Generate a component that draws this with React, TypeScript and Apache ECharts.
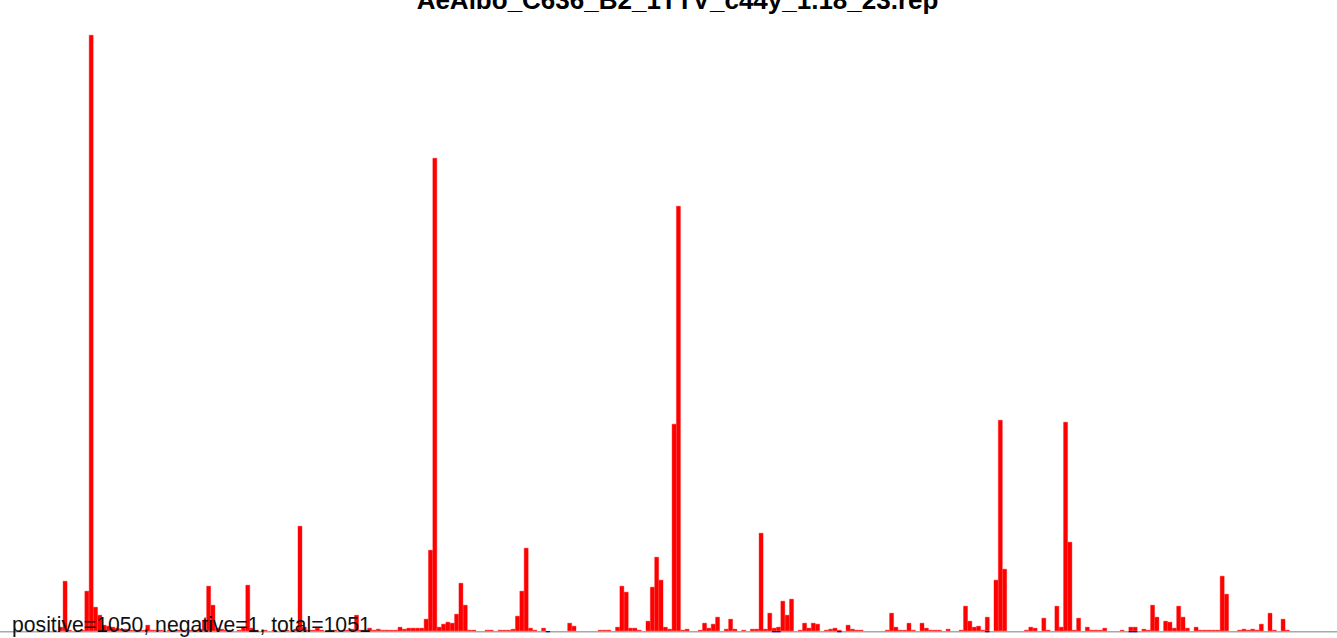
import React, { useEffect, useRef } from "react";
import * as echarts from "echarts";

const chartTitle = "AeAlbo_C636_B2_1TTV_c44y_1.18_23.rep";
const summaryText = "positive=1050, negative=1, total=1051";

// red bars, one value per bin (left to right)
const positiveCounts = [
  0, 0, 0, 0, 0, 0, 0, 0, 0, 0,
  0, 0, 0, 4, 50, 1, 0, 0, 1, 40,
  596, 24, 16, 6, 5, 4, 3, 2, 2, 1,
  1, 1, 1, 6, 1, 1, 1, 0, 1, 0,
  1, 1, 0, 1, 1, 2, 11, 45, 26, 3,
  2, 1, 1, 0, 1, 4, 46, 3, 1, 0,
  1, 0, 1, 0, 1, 1, 0, 2, 105, 4,
  1, 1, 3, 1, 0, 1, 1, 0, 1, 1,
  2, 16, 1, 1, 3, 1, 2, 1, 1, 1,
  1, 4, 2, 3, 3, 3, 3, 12, 81, 473,
  4, 7, 9, 8, 17, 48, 26, 1, 1, 0,
  0, 1, 1, 0, 1, 1, 1, 2, 15, 40,
  83, 3, 1, 0, 3, 0, 0, 0, 0, 0,
  8, 5, 0, 0, 0, 0, 0, 1, 1, 1,
  0, 4, 45, 39, 3, 3, 1, 0, 10, 44,
  74, 51, 4, 2, 207, 425, 1, 2, 0, 0,
  1, 8, 3, 7, 14, 0, 2, 12, 2, 0,
  1, 0, 2, 2, 98, 2, 18, 3, 4, 30,
  16, 32, 0, 1, 8, 3, 8, 7, 0, 1,
  2, 3, 1, 0, 6, 2, 1, 1, 0, 0,
  0, 0, 0, 1, 18, 4, 1, 1, 8, 1,
  0, 8, 3, 1, 1, 1, 0, 2, 0, 0,
  1, 25, 10, 4, 5, 1, 14, 0, 51, 211,
  62, 0, 0, 0, 0, 1, 4, 3, 0, 13,
  1, 0, 25, 4, 209, 89, 1, 13, 0, 4,
  1, 1, 1, 3, 0, 0, 0, 1, 0, 4,
  4, 0, 2, 1, 26, 14, 0, 10, 9, 3,
  25, 14, 3, 0, 4, 1, 1, 1, 1, 1,
  55, 37, 0, 0, 1, 2, 1, 2, 1, 7,
  0, 18, 1, 0, 12, 1, 0, 0, 0, 0,
  0, 0, 0, 0, 0, 0, 0, 0,
];

// blue (negative) marks: [bin, value]
const negativeMarks: [number, number][] = [
  [125, -1.3],
  [177, -1.3],
  [178, -1.3],
  [192, -1.3],
  [226, -1.3],
  [259, -1.3],
  [260, -1.3],
];

const binLabels = positiveCounts.map((_, i) => String(i));
const negativeCounts = positiveCounts.map(() => 0 as number);
negativeMarks.forEach(([b, v]) => {
  negativeCounts[b] = v;
});

const W = 1337;
const H = 638;
const BIN_W = 4.35;
const GRID_LEFT = 2.0;
const Y_MAX = 596;
const Y_MIN = -4;

export default function App() {
  const ref = useRef<HTMLDivElement>(null);
  useEffect(() => {
    if (!ref.current) return;
    const chart = echarts.init(ref.current, undefined, { renderer: "svg", width: W, height: H });
    const font = '"Liberation Sans", Arial, Helvetica, sans-serif';
    chart.setOption({
      animation: false,
      backgroundColor: "#ffffff",
      grid: {
        left: GRID_LEFT,
        top: 35,
        width: positiveCounts.length * BIN_W,
        height: Y_MAX - Y_MIN,
        containLabel: false,
        outerBoundsMode: "none",
      },
      xAxis: {
        type: "category",
        data: binLabels,
        axisLine: { show: false },
        axisTick: { show: false },
        axisLabel: { show: false },
        splitLine: { show: false },
      },
      yAxis: {
        type: "value",
        min: Y_MIN,
        max: Y_MAX,
        show: false,
        splitLine: { show: false },
      },
      series: [
        {
          type: "bar",
          name: "positive",
          data: positiveCounts.map((v) => (v !== 0 ? v : "-")),
          barWidth: "100%",
          barGap: "-100%",
          itemStyle: { color: "#ff0000", borderColor: "#ff0000", borderWidth: 0.4 },
          z: 3,
        },
        {
          type: "bar",
          name: "negative",
          data: negativeCounts.map((v) => (v !== 0 ? v : "-")),
          barWidth: "100%",
          barGap: "-100%",
          itemStyle: { color: "#0000ff" },
          z: 4,
        },
      ],
      graphic: [
        {
          type: "line",
          z: 1,
          shape: { x1: 0, y1: 631.8, x2: W, y2: 631.8 },
          style: { stroke: "#a8a8a8", lineWidth: 1.6 },
        },
        {
          type: "text",
          z: 100,
          x: 677.5,
          y: 0,
          style: {
            text: chartTitle,
            font: `bold 26px ${font}`,
            fill: "#000000",
            align: "center",
            verticalAlign: "middle",
          },
        },
        {
          type: "text",
          z: 100,
          x: 12,
          y: 624,
          style: {
            text: summaryText,
            font: `21.2px ${font}`,
            fill: "#111111",
            align: "left",
            verticalAlign: "middle",
          },
        },
      ],
    });
    return () => chart.dispose();
  }, []);
  return (
    <div
      ref={ref}
      style={{ position: "fixed", left: 0, top: 0, width: W, height: H, background: "#fff" }}
    />
  );
}
